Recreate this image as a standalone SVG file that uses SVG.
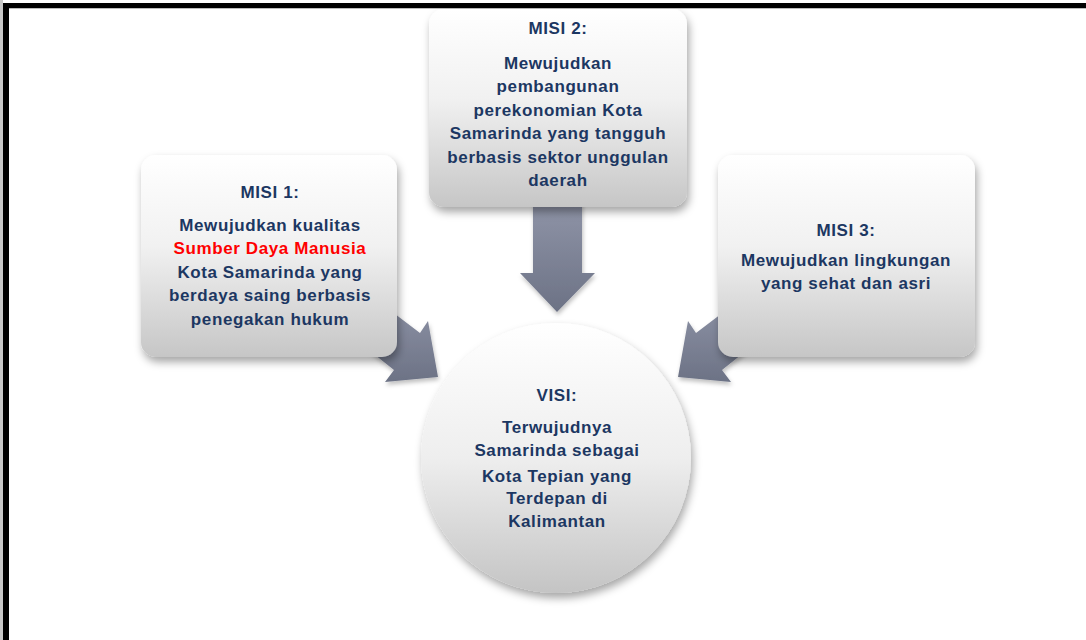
<svg xmlns="http://www.w3.org/2000/svg" width="1086" height="640" viewBox="0 0 1086 640">
<defs>
<linearGradient id="boxg" x1="0" y1="0" x2="0" y2="1">
<stop offset="0" stop-color="#ffffff"/>
<stop offset="0.45" stop-color="#f1f1f1"/>
<stop offset="1" stop-color="#c6c6c6"/>
</linearGradient>
<linearGradient id="circg" x1="0" y1="0" x2="0" y2="1">
<stop offset="0" stop-color="#ffffff"/>
<stop offset="0.5" stop-color="#eeeeee"/>
<stop offset="1" stop-color="#c4c4c4"/>
</linearGradient>
<linearGradient id="arrg" x1="0" y1="0" x2="0" y2="1">
<stop offset="0" stop-color="#9095a8"/>
<stop offset="1" stop-color="#6c7285"/>
</linearGradient>
<filter id="sh" x="-20%" y="-20%" width="140%" height="140%">
<feDropShadow dx="2" dy="5" stdDeviation="4" flood-color="#000" flood-opacity="0.35"/>
</filter>
<filter id="ash" x="-30%" y="-30%" width="160%" height="160%">
<feDropShadow dx="1" dy="3" stdDeviation="2" flood-color="#000" flood-opacity="0.25"/>
</filter>
</defs>
<style>
.t{font-family:"Liberation Sans",Arial,sans-serif;font-weight:bold;font-size:17px;letter-spacing:0.6px;fill:#1c3762;text-anchor:middle}
.r{fill:#ff0000}
.box{fill:url(#boxg);filter:url(#sh)}
.arr{fill:url(#arrg);filter:url(#ash)}
</style>
<rect x="0" y="0" width="1086" height="640" fill="#ffffff"/>
<rect x="0" y="0" width="3" height="640" fill="#c8c8c8"/>
<rect x="3" y="3" width="1083" height="5" fill="#000000"/>
<rect x="3" y="3" width="6" height="637" fill="#000000"/>
<rect x="9" y="8" width="1077" height="1" fill="#bbbbbb"/>

<g id="connectors">
<polygon class="arr" points="533,200 582,200 582,273 595,273 557,312 520,273 533,273"/>
<polygon class="arr" points="370,295 420,333 428,321 438,377 385,382 394,370 350,335"/>
<polygon class="arr" points="746,295 696,333 688,321 678,377 731,382 722,370 766,335"/>
</g>

<g id="visi">
<circle cx="556" cy="458" r="135" fill="url(#circg)" filter="url(#sh)"/>
<text class="t" x="557" y="401">VISI:</text>
<text class="t" x="557" y="433">Terwujudnya</text>
<text class="t" x="557" y="456">Samarinda sebagai</text>
<text class="t" x="557" y="482">Kota Tepian yang</text>
<text class="t" x="557" y="504">Terdepan di</text>
<text class="t" x="557" y="527">Kalimantan</text>
</g>

<g id="misi1">
<rect class="box" x="141" y="155" width="256" height="202" rx="15"/>
<text class="t" x="270" y="198">MISI 1:</text>
<text class="t" x="270" y="231">Mewujudkan kualitas</text>
<text class="t r" x="270" y="254">Sumber Daya Manusia</text>
<text class="t" x="270" y="278">Kota Samarinda yang</text>
<text class="t" x="270" y="301">berdaya saing berbasis</text>
<text class="t" x="270" y="325">penegakan hukum</text>
</g>

<g id="misi2">
<rect class="box" x="429" y="9" width="258" height="198" rx="15"/>
<text class="t" x="558" y="34">MISI 2:</text>
<text class="t" x="558" y="69">Mewujudkan</text>
<text class="t" x="558" y="92">pembangunan</text>
<text class="t" x="558" y="116">perekonomian Kota</text>
<text class="t" x="558" y="139">Samarinda yang tangguh</text>
<text class="t" x="558" y="163">berbasis sektor unggulan</text>
<text class="t" x="558" y="186">daerah</text>
</g>

<g id="misi3">
<rect class="box" x="718" y="155" width="257" height="202" rx="15"/>
<text class="t" x="846" y="236">MISI 3:</text>
<text class="t" x="846" y="266">Mewujudkan lingkungan</text>
<text class="t" x="846" y="289">yang sehat dan asri</text>
</g>
</svg>
